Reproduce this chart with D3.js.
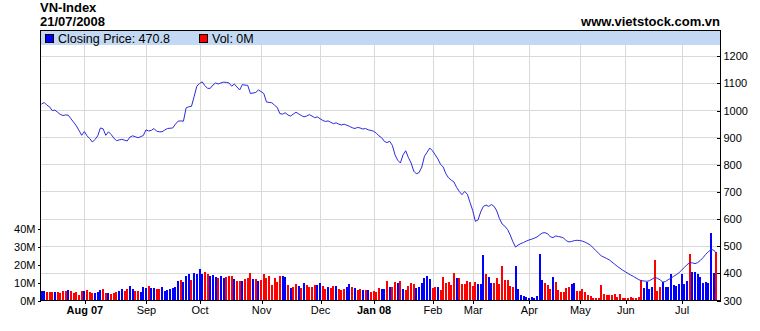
<!DOCTYPE html>
<html>
<head>
<meta charset="utf-8">
<script src="https://cdn.jsdelivr.net/npm/d3@7"></script>
<style>
	body { margin: 0; background: #fff; }
	text { font-family: Arial, "Liberation Sans", sans-serif; }
</style>
</head>
<body>
<div id="chart"></div>
<script>
// Closing price, one value per trading day (Jul 2007 .. 21 Jul 2008)
const closes = [
	// Jul 07
	1022, 1028, 1018, 1012, 998, 1000, 992, 984, 980, 982, 981, 968, 955, 942, 925, 907,
	// Aug
	921, 905, 895, 882, 892, 905, 934, 931, 907, 920, 910, 897, 887, 890, 892, 889, 886, 900, 905, 902, 898, 902, 906,
	// Sep
	927, 923, 925, 932, 922, 920, 920, 926, 932, 933, 934, 948, 959, 960, 959, 1008, 1012, 1014, 1050, 1088,
	// Oct
	1098, 1104, 1090, 1080, 1080, 1092, 1100, 1096, 1100, 1103, 1102, 1100, 1088, 1096, 1085, 1074, 1094, 1092, 1091, 1061, 1063, 1065, 1074,
	// Nov
	1068, 1061, 1030, 1028, 1027, 1018, 1010, 987, 985, 990, 982, 978, 985, 992, 986, 980, 975, 978, 983, 978, 972, 975,
	// Dec
	968, 962, 958, 960, 955, 950, 953, 948, 945, 948, 944, 940, 935, 932, 936, 934, 930, 932, 927, 925,
	// Jan 08
	922, 915, 905, 898, 885, 880, 885, 870, 835, 815, 805, 835, 850, 825, 805, 775, 765, 770, 790, 830, 845, 860,
	// Feb
	850, 835, 820, 800, 790, 765, 750, 742, 735, 715, 700, 688, 700, 690, 660,
	// Mar
	630, 590, 595, 625, 645, 650, 645, 652, 645, 628, 600, 580, 572, 560, 540, 515, 495, 503, 508, 512, 517,
	// Apr
	521, 524, 528, 532, 540, 547, 548, 544, 533, 530, 536, 534, 532, 528, 518, 514, 516, 519, 520,
	// May
	519, 517, 513, 508, 502, 492, 482, 472, 463, 458, 453, 448, 440, 432, 424, 417, 410,
	// Jun
	404, 398, 392, 387, 381, 375, 371, 370, 369, 371, 377, 383, 380, 374, 366, 368, 375, 380, 387, 393, 400,
	// Jul
	410, 420, 430, 437, 437, 434, 438, 446, 456, 468, 478, 486, 484, 470.8
];

// Volume in millions, same days
const volumes = [
	5.0, 5.0, 4.4, 4.4, 4.4, 4.4, 4.4, 3.9, 5.0, 5.0, 5.6, 5.0, 3.9, 4.4, 3.0, 5.0,
	5.0, 5.6, 4.4, 3.9, 3.9, 4.4, 5.6, 6.1, 3.9, 3.9, 3.3, 3.9, 4.4, 5.0, 6.1, 5.0, 6.1, 7.8, 6.1, 5.0, 5.0, 4.4, 7.2,
	6.7, 7.8, 6.7, 6.7, 6.1, 6.1, 7.2, 5.0, 5.6, 6.1, 6.7, 7.2, 10.6, 11.1, 10.0, 13.3, 14.4, 11.1, 15.0, 14.4,
	17.2, 14.4, 15.6, 14.4, 13.3, 13.9, 12.8, 12.2, 13.3, 12.2, 12.8, 13.3, 13.3, 11.7, 10.6, 10.6, 10.6, 11.7, 12.2, 15.0, 11.7, 11.7, 10.6,
	11.1, 14.4, 12.2, 13.3, 8.3, 12.2, 10.0, 13.3, 13.3, 12.8, 8.3, 6.7, 7.2, 8.9, 7.8, 6.7, 9.4, 8.3, 7.2, 7.2, 8.3, 8.3,
	9.4, 7.8, 6.1, 7.2, 6.7, 7.8, 7.8, 6.1, 5.6, 6.1, 7.2, 8.9, 7.2, 6.7, 5.6, 6.1, 5.6, 5.6, 5.6, 4.4,
	5.0, 4.4, 6.7, 6.1, 6.1, 10.6, 7.2, 7.2, 10.0, 9.4, 10.6, 6.1, 5.6, 7.8, 9.4, 8.9, 6.7, 7.2, 9.4, 12.2, 13.3, 11.7,
	6.7, 7.2, 7.2, 5.6, 12.8, 9.4, 10.0, 8.3, 15.0, 12.2, 12.2, 8.9, 8.9, 10.6, 10.0,
	7.8, 10.0, 8.9, 8.9, 25.0, 14.4, 12.8, 9.4, 9.4, 12.2, 8.9, 18.9, 11.1, 11.1, 7.8, 7.2, 18.9, 6.1, 2.8, 2.2, 1.7,
	1.1, 1.7, 1.1, 2.2, 25.6, 11.1, 9.4, 8.3, 6.1, 12.8, 10.0, 5.6, 4.4, 4.4, 6.7, 7.2, 8.9, 9.4, 5.0,
	5.0, 6.1, 4.4, 2.8, 2.2, 1.1, 1.1, 1.1, 8.3, 3.3, 2.8, 2.8, 2.8, 3.3, 1.7, 3.3, 1.1,
	1.1, 1.1, 1.7, 1.1, 1.1, 1.7, 11.1, 6.5, 10.2, 6.0, 7.0, 22.2, 5.0, 7.0, 10.2, 7.0, 7.0, 14.4, 8.3, 8.0, 8.9,
	14.4, 8.9, 10.7, 25.6, 15.7, 15.7, 14.4, 12.6, 9.3, 10.2, 9.3, 37.0, 14.8, 26.9
];

// Bar colour per day: b = up (blue), r = down (red)
const volDir = [
	"bbrrrbrrrrbrrrrr",
	"brrrbbbrrbrrrbbrrbbrrbb",
	"brbbrrbbbbbbbrbbbrbb",
	"bbrrbbbrbbrrrbrrbrrrbrb",
	"rrrrrrrrbbrbrrbrbrrrrb",
	"brrbrrbrrrbbrbrrbrbr",
	"rrrbbrbrrbrbrrrrbbbbbb",
	"rrbrrrrrrbrrrrr",
	"rrbbbrbbrrrrrrrrbbbbb",
	"bbbbbbrrrbrrrrrrbbr",
	"rrrrrrrrrrrrrrrrr",
	"rrrrrrrbbbbrrrbbbbbbb",
	"bbbrbbbbbbbbbr"
].join("");

// Month ticks: index of first trading day of each month
const monthIdx = [16, 39, 59, 82, 104, 124, 146, 161, 182, 201, 218, 239];
const monthLabels = ["Aug 07", "Sep", "Oct", "Nov", "Dec", "Jan 08", "Feb", "Mar", "Apr", "May", "Jun", "Jul"];
const priceTicks = [300, 400, 500, 600, 700, 800, 900, 1000, 1100, 1200];
const volTicks = [0, 10, 20, 30, 40];

/**
 * Dimensions
 */
let width = 760;
let height = 331;
let plot = { left: 40, right: 720, top: 30, bottom: 300, legendBottom: 45 };

let svg = d3.select("#chart").append("svg")
	.attr("width", width)
	.attr("height", height)
	.style("display", "block");

svg.append("rect").attr("width", width).attr("height", height).attr("fill", "#fff");

/**
 * Scales
 */
let xScale = d3.scaleLinear().domain([0, closes.length - 1]).range([41.5, 716.4]);
let yPrice = d3.scaleLinear().domain([300, 1200]).range([300, 55.8]);
let yVol = d3.scaleLinear().domain([0, 40]).range([300, 228]);

// Titles
svg.append("text").attr("x", 40).attr("y", 12)
	.style("font-size", "13px").style("font-weight", "bold").text("VN-Index");
svg.append("text").attr("x", 40).attr("y", 26)
	.style("font-size", "13px").style("font-weight", "bold").text("21/07/2008");
svg.append("text").attr("x", 720).attr("y", 26).attr("text-anchor", "end")
	.style("font-size", "13px").style("font-weight", "bold").text("www.vietstock.com.vn");

// Grid
let grid = svg.append("g").attr("shape-rendering", "crispEdges").attr("stroke", "#d9d9d9");
grid.selectAll(".hg").data(priceTicks.filter(d => d > 300)).enter().append("line")
	.attr("x1", plot.left).attr("x2", plot.right)
	.attr("y1", d => Math.round(yPrice(d)) + 0.5).attr("y2", d => Math.round(yPrice(d)) + 0.5);
grid.selectAll(".vg").data(monthIdx).enter().append("line")
	.attr("x1", d => Math.round(xScale(d)) + 0.5).attr("x2", d => Math.round(xScale(d)) + 0.5)
	.attr("y1", plot.legendBottom).attr("y2", plot.bottom);

// Legend band
svg.append("rect").attr("x", plot.left).attr("y", plot.top)
	.attr("width", plot.right - plot.left).attr("height", plot.legendBottom - plot.top)
	.attr("fill", "#c2d8f3");

let legend = [
	{ x: 45, color: "#0000ff", label: "Closing Price: 470.8" },
	{ x: 199, color: "#ff0000", label: "Vol: 0M" }
];
let lg = svg.append("g").selectAll("g").data(legend).enter().append("g");
lg.append("rect").attr("x", d => d.x + 0.5).attr("y", 34.5).attr("width", 8).attr("height", 8)
	.attr("fill", d => d.color).attr("stroke", "#000").attr("stroke-width", 1);
lg.append("text").attr("x", d => d.x + 13).attr("y", 42.5)
	.style("font-size", "12.5px").text(d => d.label);

// Volume bars
svg.append("g").attr("shape-rendering", "crispEdges")
	.selectAll("rect").data(volumes).enter().append("rect")
	.attr("x", (d, i) => Math.round(xScale(i) - 1))
	.attr("width", 2)
	.attr("y", d => yVol(d))
	.attr("height", d => yVol(0) - yVol(d))
	.attr("fill", (d, i) => volDir[i] === "b" ? "#0000ff" : "#ff0000");

// Closing price line
let line = d3.line().x((d, i) => xScale(i)).y(d => yPrice(d));
svg.append("path").datum(closes)
	.attr("d", line)
	.attr("fill", "none")
	.attr("stroke", "#2a2ae0")
	.attr("stroke-width", 1);

// Axes
let rightAxis = d3.axisRight(yPrice).tickValues(priceTicks).tickFormat(d3.format("d")).tickSize(-4).tickPadding(3);
let leftAxis = d3.axisLeft(yVol).tickValues(volTicks).tickFormat(d => d + "M").tickSize(3).tickPadding(2);
let bottomAxis = d3.axisBottom(xScale).tickValues(monthIdx).tickFormat((d, i) => monthLabels[i]).tickSize(3).tickPadding(3);

function styleAxis(g) {
	g.select(".domain").remove();
	g.selectAll("line").attr("stroke", "#000").attr("shape-rendering", "crispEdges");
	g.selectAll("text").attr("fill", "#000").style("font-size", "11px")
		.style("font-family", "Arial, 'Liberation Sans', sans-serif");
}

svg.append("g").attr("transform", "translate(" + (plot.right + 0.5) + ",0.5)").call(rightAxis).call(styleAxis);
svg.append("g").attr("transform", "translate(" + (plot.left + 0.5) + ",0.5)").call(leftAxis).call(styleAxis);
let bx = svg.append("g").attr("transform", "translate(0," + (plot.bottom + 0.5) + ")").call(bottomAxis).call(styleAxis);
bx.selectAll(".tick line").attr("transform", "translate(0.5,0)");
bx.selectAll("text").style("font-weight", (d, i) => /\d/.test(monthLabels[i]) ? "bold" : "normal");

// Frame
let frame = svg.append("g").attr("stroke", "#000").attr("shape-rendering", "crispEdges");
frame.append("line").attr("x1", plot.left).attr("x2", plot.right + 1).attr("y1", plot.top + 0.5).attr("y2", plot.top + 0.5);
frame.append("line").attr("x1", plot.left + 0.5).attr("x2", plot.left + 0.5).attr("y1", plot.top).attr("y2", plot.bottom + 1);
frame.append("line").attr("x1", plot.right + 0.5).attr("x2", plot.right + 0.5).attr("y1", plot.top).attr("y2", plot.bottom + 1);
frame.append("line").attr("x1", plot.left).attr("x2", plot.right + 1).attr("y1", plot.bottom + 0.5).attr("y2", plot.bottom + 0.5);
</script>
</body>
</html>
